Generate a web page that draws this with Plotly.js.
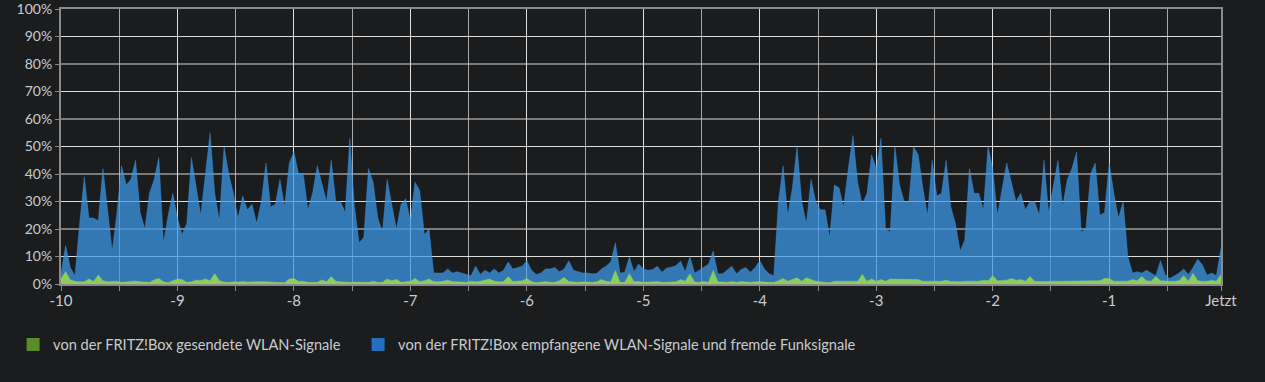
<!DOCTYPE html>
<html>
<head>
<meta charset="utf-8">
<script src="https://cdn.plot.ly/plotly-3.0.1.min.js"></script>
<style>
html,body{margin:0;padding:0;background:#1b1c1e;}
#chart{width:1265px;height:382px;}
</style>
</head>
<body>
<div id="chart"></div>
<script>
// time axis: minutes-units from -10 to "Jetzt", one sample every 0.04
const startTime = -10;
const sampleStep = 0.04;

// received WLAN + foreign radio signals (top of blue area), percent
const received = [
 4,14,6,3,22,39,24,24,23,42,
 27,12,26,43,36,38,45,26,20,33,
 38,46,15,25,33,24,18,22,46,36,
 25,40,55,33,23,50,40,33,24,32,
 27,29,22,30,44,28,29,38,28,44,
 48,40,40,27,33,43,37,30,45,30,
 30,26,53,28,15,17,42,37,24,19,
 38,29,20,29,31,23,37,34,18,20,
 4,4,4,5.5,4,4.5,4,3.5,3,6.5,
 3.5,5,4,5.5,4,5,8,5.5,6,6.5,
 8.5,5,3.5,4,5.5,5.5,6,4.5,5.5,8.5,
 5,4.5,4,4,3.7,3.8,5.5,6.5,8,15,
 4,4.3,9.8,4.5,7.3,5.5,5,5.3,6.5,4.3,
 5.8,6.1,6.7,8.3,4.5,10,4,5,6,7.3,
 12,3.7,3.7,5,6.5,3.7,5.3,6,4.3,6,
 8.5,5.5,3.7,3,30,43,25,35,50,30,
 22,38,30,27,27,17,36,35,28,42,
 54,37,29,33,47,42,53,20,19,50,
 36,30,30,50,47,35,25,45,32,33,
 45,28,22,12,16,42,33,33,27,50,
 42,25,35,44,37,30,33,27,30,30,
 25,45,26,36,45,28,38,42,48,19,
 20,40,44,25,26,44,33,24,30,10,
 4,4.5,4,5,4,3,8.5,3.5,2,3,
 4,5.5,3.5,6,9,7,3.2,4,3,13
];

// WLAN signals sent by the FRITZ!Box (green area), percent
const sent = [
 2,4.5,1.5,1,0.8,0.8,1.8,0.9,3.3,1.2,
 0.8,0.8,1,0.6,0.7,0.8,1.1,0.8,0.6,0.6,
 1.5,2,0.8,0.5,1.2,1.8,1.6,0.6,0.8,1.4,
 1.3,1.8,1.2,3.8,1.2,0.7,0.6,0.8,0.7,0.9,
 0.7,0.8,0.7,0.9,0.8,0.7,0.5,0.6,0.5,1.8,
 2,1,1,0.6,0.6,0.6,1.5,0.8,2.7,1,
 0.8,0.6,0.6,0.7,0.6,0.6,0.6,1,0.6,0.6,
 1.8,1.2,1.7,0.6,0.8,1,2,0.8,1.2,1.8,
 0.9,0.8,1,1.4,0.9,0.8,0.6,0.6,1,0.8,
 1,1.4,1.8,1,0.8,0.9,2.7,0.9,1,1.2,
 2,0.9,0.5,0.8,0.9,0.6,0.6,1.2,2.4,0.9,
 0.7,0.6,0.8,0.6,0.6,0.8,1.6,1,0.8,4.9,
 0.6,0.6,3.7,0.8,0.9,0.6,0.6,0.8,0.9,0.6,
 0.6,0.6,0.8,1.6,1,3.7,0.7,0.6,0.9,0.6,
 4.9,0.8,0.6,0.6,0.9,0.6,0.9,0.7,0.6,0.8,
 0.9,0.7,0.6,0.6,1.2,2,1,1.6,2.3,1,
 2.3,1.6,1,0.8,0.6,0.5,1,1,1,1,
 0.8,1,3.5,1,1.8,1,1.6,1,1.8,1.8,
 1.6,1.8,1.8,1.8,1.6,1,1,1,1,1,
 1.4,0.9,0.9,0.8,1,1,1,1,1.4,1.2,
 3,1.2,1.3,1.4,2,1.4,1.6,1,2.7,1,
 0.9,1,0.9,1,1,1,1,1,1,1,
 1,1,1,1.2,2,2,1,1,1,1,
 1.6,1.2,2.7,1.2,1,2.7,1.2,1,1,1,
 1.2,3,1,3.9,1.2,1,1,1.3,1,3.5
];

const xTickValues = [-10,-9,-8,-7,-6,-5,-4,-3,-2,-1,-0.04];
const xTickLabels = ['-10','-9','-8','-7','-6','-5','-4','-3','-2','-1','Jetzt'];
const yTickValues = [0,10,20,30,40,50,60,70,80,90,100];
const yTickLabels = ['0%','10%','20%','30%','40%','50%','60%','70%','80%','90%','100%'];

const seriesNames = [
  'von der FRITZ!Box gesendete WLAN-Signale',
  'von der FRITZ!Box empfangene WLAN-Signale und fremde Funksignale'
];

const times = received.map((_, i) => startTime + i * sampleStep);

const textColor = '#c8ccd0';
const fontFamily = 'Lato, "Open Sans", sans-serif';

const traces = [
  {
    x: times, y: received, type: 'scatter', mode: 'lines',
    fill: 'tozeroy', fillcolor: 'rgba(60,152,232,0.74)',
    line: {color: 'rgba(60,152,232,0.74)', width: 0.5},
    showlegend: false, hoverinfo: 'skip'
  },
  {
    x: times, y: sent, type: 'scatter', mode: 'lines',
    fill: 'tozeroy', fillcolor: '#8ccd5c',
    line: {color: '#8ccd5c', width: 0.5},
    showlegend: false, hoverinfo: 'skip'
  },
  {
    x: [null], y: [null], type: 'scatter', mode: 'markers',
    name: seriesNames[0], legend: 'legend',
    marker: {symbol: 'square', size: 13, color: '#5b8c2a'}
  },
  {
    x: [null], y: [null], type: 'scatter', mode: 'markers',
    name: seriesNames[1], legend: 'legend2',
    marker: {symbol: 'square', size: 13, color: '#2370c0'}
  },
  // dummy trace on y2 so the overlay grid axis is drawn
  {x: [null], y: [null], yaxis: 'y2', type: 'scatter', mode: 'lines', showlegend: false, hoverinfo: 'skip'}
];

const legendFont = {family: fontFamily, color: textColor, size: 14.6};

const layout = {
  width: 1265, height: 382,
  paper_bgcolor: '#1b1c1e', plot_bgcolor: '#1b1c1e',
  margin: {l: 61, r: 44, t: 9, b: 98},
  font: {family: fontFamily, color: textColor, size: 15},
  xaxis: {
    range: [-10, -0.04], tickmode: 'array',
    tickvals: xTickValues, ticktext: xTickLabels,
    showgrid: true, gridcolor: 'rgba(255,255,255,0.62)', gridwidth: 1,
    minor: {dtick: 0.5, tick0: -10, showgrid: true, gridcolor: 'rgba(255,255,255,0.62)', gridwidth: 1,
            ticks: 'outside', ticklen: 5, tickcolor: '#8a8a8a', tickwidth: 1},
    ticks: 'outside', ticklen: 5, tickcolor: '#8a8a8a', tickwidth: 1,
    ticklabelstandoff: -3, ticklabeloverflow: 'allow',
    showline: true, linecolor: '#8a8a8a', linewidth: 2, mirror: true,
    zeroline: false, fixedrange: true,
    tickfont: {family: fontFamily, color: textColor, size: 15}
  },
  yaxis: {
    range: [0, 100.02], tickmode: 'array', tickvals: yTickValues, ticktext: yTickLabels,
    showgrid: false, ticklabeloverflow: 'allow',
    ticks: 'outside', ticklen: 4, tickcolor: '#8a8a8a',
    showline: true, linecolor: '#8a8a8a', linewidth: 2, mirror: true,
    zeroline: false, fixedrange: true,
    tickfont: {family: fontFamily, color: textColor, size: 14}
  },
  yaxis2: {
    overlaying: 'y', range: [0, 100.02], dtick: 20, tick0: 0,
    showticklabels: false, ticks: '',
    showgrid: true, gridcolor: 'rgba(200,200,200,0.55)', gridwidth: 2,
    minor: {dtick: 10, tick0: 0, showgrid: true, gridcolor: 'rgba(255,255,255,0.85)', gridwidth: 1},
    zeroline: false, fixedrange: true
  },
  showlegend: true,
  legend: {
    orientation: 'h', x: -0.0413, xanchor: 'left', y: -0.22, yanchor: 'middle',
    font: legendFont, bgcolor: 'rgba(0,0,0,0)'
  },
  legend2: {
    orientation: 'h', x: 0.2561, xanchor: 'left', y: -0.22, yanchor: 'middle',
    font: legendFont, bgcolor: 'rgba(0,0,0,0)'
  }
};

Plotly.newPlot('chart', traces, layout, {displayModeBar: false, staticPlot: true});
</script>
</body>
</html>
